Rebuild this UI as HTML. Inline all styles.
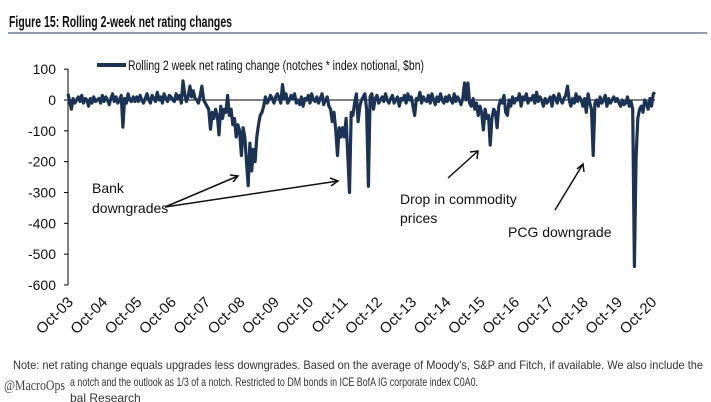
<!DOCTYPE html>
<html><head><meta charset="utf-8"><style>
html,body{margin:0;padding:0;background:#fff;}
svg{display:block;font-family:"Liberation Sans",Arial,sans-serif;}
</style></head><body>
<svg id="chart" width="711" height="402" viewBox="0 0 711 402">
<text x="9" y="27" font-size="16" font-weight="bold" fill="#111" textLength="223" lengthAdjust="spacingAndGlyphs">Figure 15: Rolling 2-week net rating changes</text>
<line x1="8" y1="33" x2="707" y2="33" stroke="#6d7f99" stroke-width="1.5"/>
<g>
<line x1="97" y1="65" x2="126" y2="65" stroke="#1c3355" stroke-width="4"/>
<text x="128" y="70" font-size="14" fill="#111" textLength="296" lengthAdjust="spacingAndGlyphs">Rolling 2 week net rating change (notches * index notional, $bn)</text>
</g>
<g id="yaxis"></g>
<g id="xaxis"></g>
<line id="zero" stroke="#000" stroke-width="1"/>
<path id="series" fill="none" stroke="#1c3355" stroke-width="3.2" stroke-linejoin="round"/>
<g font-size="14" fill="#111">
<text x="92" y="193">Bank</text>
<text x="92" y="213">downgrades</text>
<line x1="165" y1="207" x2="238" y2="176" stroke="#111" stroke-width="1.5"/>
<path d="M230,175 L238,176 L233,182" fill="none" stroke="#111" stroke-width="1.5"/>
<line x1="165" y1="207" x2="338" y2="181" stroke="#111" stroke-width="1.5"/>
<path d="M330,178 L338,181 L331,186" fill="none" stroke="#111" stroke-width="1.5"/>
<text x="400" y="204">Drop in commodity</text>
<text x="400" y="223">prices</text>
<line x1="448" y1="178" x2="478" y2="151" stroke="#111" stroke-width="1.5"/>
<path d="M470,152 L478,151 L477,159" fill="none" stroke="#111" stroke-width="1.5"/>
<text x="508" y="237">PCG downgrade</text>
<line x1="555" y1="210" x2="583" y2="164" stroke="#111" stroke-width="1.5"/>
<path d="M577,169 L583,164 L584,172" fill="none" stroke="#111" stroke-width="1.5"/>
</g>
<g font-size="12" fill="#333">
<text x="13" y="369" textLength="690" lengthAdjust="spacingAndGlyphs">Note: net rating change equals upgrades less downgrades. Based on the average of Moody's, S&amp;P and Fitch, if available. We also include the</text>
<text x="70" y="386" textLength="408" lengthAdjust="spacingAndGlyphs">a notch and the outlook as 1/3 of a notch. Restricted to DM bonds in ICE BofA IG corporate index C0A0.</text>
<text x="70" y="402">bal Research</text>
</g>
<text x="4" y="390" font-family="Liberation Serif,serif" font-size="15" fill="#444" textLength="61" lengthAdjust="spacingAndGlyphs">@MacroOps</text>
</svg>
<script>
const yTicks=[100,0,-100,-200,-300,-400,-500,-600];
const xLabels=["Oct-03","Oct-04","Oct-05","Oct-06","Oct-07","Oct-08","Oct-09","Oct-10","Oct-11","Oct-12","Oct-13","Oct-14","Oct-15","Oct-16","Oct-17","Oct-18","Oct-19","Oct-20"];
const startYear=2003.75;
const stepYears=0.05;
const values=[
20,-5,-30,5,-10,0,10,-5,15,-10,5,0,-20,5,-10,10,-5,0,5,-10,
15,-5,10,0,-15,5,20,-5,10,-10,0,15,-88,5,-10,20,0,-5,10,-5,
10,-5,15,0,-10,5,20,0,-10,15,5,-5,25,0,10,-10,20,5,-5,15,
10,0,-5,20,5,15,-10,62,20,-5,10,45,10,30,5,0,-10,15,45,0,
-10,-20,-30,-95,-40,-60,-30,-50,-113,-20,-60,-30,-40,15,-50,-30,-80,-60,-120,-80,
-100,-180,-90,-120,-200,-278,-140,-230,-160,-200,-120,-80,-50,-40,-20,10,-10,0,15,5,
-10,10,20,5,-10,50,5,20,-10,0,15,5,20,-10,0,-15,10,-20,5,0,
15,-10,20,0,-5,10,-10,5,20,-15,0,10,-20,-30,-70,-40,-100,-180,-90,-120,
-90,-120,-60,-180,-300,-40,-50,-10,20,-70,-20,0,10,20,-30,-280,10,20,-30,5,
15,-10,0,10,-5,20,0,-10,5,15,-10,0,10,-20,5,0,15,-10,20,0,
10,-20,-50,5,0,25,-10,10,0,-5,15,-10,20,0,-15,10,-5,20,0,-10,
10,-5,15,0,-10,20,-5,10,0,-15,5,55,0,55,-10,-20,5,-30,-10,-50,
-20,-40,-97,-30,-60,-50,-146,-60,-30,-40,-90,-20,0,-10,15,-40,-50,0,-20,10,
-10,5,0,20,-20,10,0,20,-10,5,0,15,-10,25,-5,10,0,-20,5,-10,
0,10,-20,15,5,-10,20,0,-10,5,15,45,0,-20,5,-10,20,-5,10,0,
-20,5,-40,20,-10,-30,-180,-10,0,-20,10,-10,0,15,-20,5,-10,0,10,-5,
5,-10,-20,0,-15,-10,10,-20,-5,-30,-540,-185,-60,-30,-20,-40,0,-10,-30,5,-20,20,25];
const X0=68,X1=655,T0=2003.75,T1=2020.85;
const xs=t=>X0+(t-T0)/(T1-T0)*(X1-X0);
const ys=v=>100-v*0.3083;
const NS="http://www.w3.org/2000/svg";
const yax=document.getElementById('yaxis');
const ax=document.createElementNS(NS,'line');
ax.setAttribute('x1',X0);ax.setAttribute('x2',X0);ax.setAttribute('y1',ys(100));ax.setAttribute('y2',ys(-600));ax.setAttribute('stroke','#000');


yax.appendChild(ax);
yTicks.forEach(v=>{
 const tk=document.createElementNS(NS,'line');
 tk.setAttribute('x1',X0-4);tk.setAttribute('x2',X0);tk.setAttribute('y1',ys(v));tk.setAttribute('y2',ys(v));tk.setAttribute('stroke','#000');
 
 
 yax.appendChild(tk);
 const tx=document.createElementNS(NS,'text');
 tx.setAttribute('x',56);tx.setAttribute('y',ys(v)+5);tx.setAttribute('text-anchor','end');tx.setAttribute('font-size','14');tx.setAttribute('fill','#111');
 tx.textContent=v;
 
 
 yax.appendChild(tx);
});
const xax=document.getElementById('xaxis');
xLabels.forEach((l,i)=>{
 const x=xs(2003.75+i)+6;
 const tx=document.createElementNS(NS,'text');
 tx.setAttribute('transform','translate('+x+',303) rotate(-45)');
 tx.setAttribute('text-anchor','end');tx.setAttribute('font-size','15');tx.setAttribute('fill','#111');
 tx.textContent=l;
 
 
 xax.appendChild(tx);
});
const z=document.getElementById('zero');
z.setAttribute('x1',X0);z.setAttribute('x2',X1);z.setAttribute('y1',ys(0));z.setAttribute('y2',ys(0));
let d='';
values.forEach((v,i)=>{const t=startYear+i*stepYears;d+=(i?'L':'M')+xs(t).toFixed(1)+','+ys(v).toFixed(1);});
document.getElementById('series').setAttribute('d',d);
</script>
</body></html>
